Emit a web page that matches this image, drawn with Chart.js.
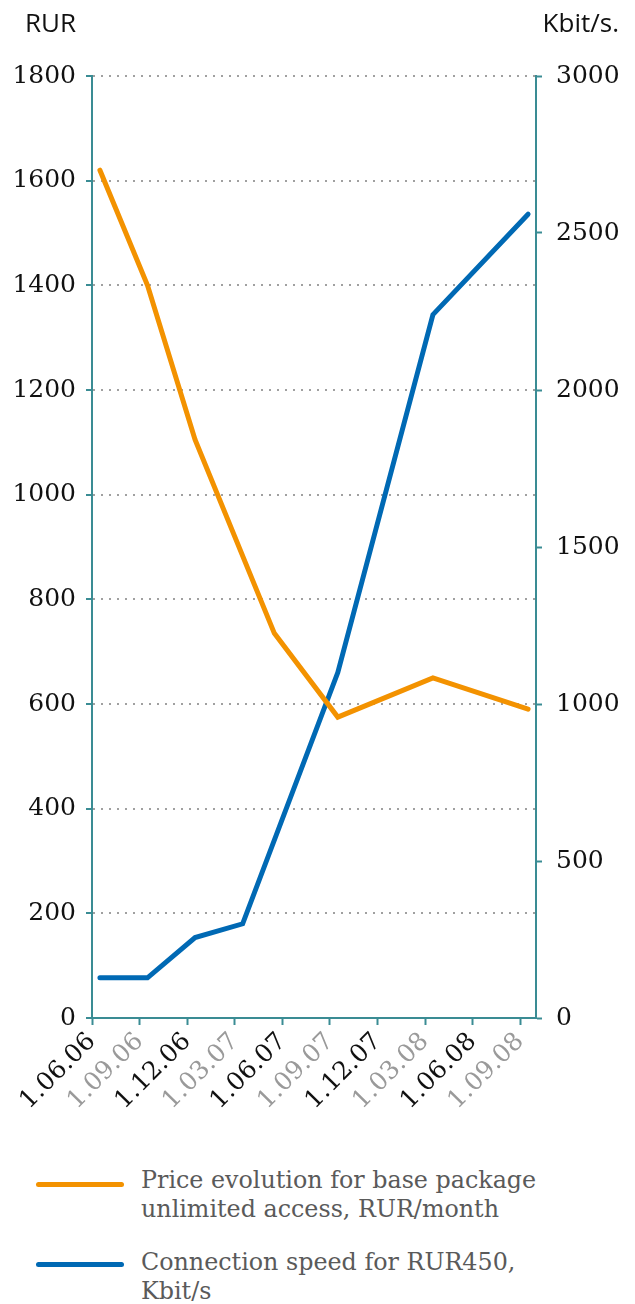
<!DOCTYPE html>
<html>
<head>
<meta charset="utf-8">
<script src="https://cdn.jsdelivr.net/npm/chart.js@4/dist/chart.umd.min.js"></script>
<style>
  html, body { margin: 0; padding: 0; background: #fff; }
  #wrap { position: relative; width: 635px; height: 1304px; overflow: hidden; }
  #chart { position: absolute; left: 0; top: 0; }
  .unit { position: absolute; top: 4px; font-family: "Open Sans", sans-serif; font-size: 26px; color: #111; }
  #unitLeft { left: 25px; }
  #unitRight { right: 16px; }
  .legend-swatch { position: absolute; left: 36px; width: 88px; height: 5px; border-radius: 3px; }
  .legend-text { position: absolute; left: 141px; font-family: "DejaVu Serif", serif; font-size: 23.8px; line-height: 29px; color: #5a5a5a; white-space: nowrap; }
</style>
</head>
<body>
<div id="wrap">
  <canvas id="chart" width="635" height="1130"></canvas>
  <div class="unit" id="unitLeft">RUR</div>
  <div class="unit" id="unitRight">Kbit/s.</div>
  <div id="legend"></div>
</div>
<script>
// Quarter ticks on the time axis, counted in months from 1 June 2006
const tickMonths = [0, 3, 6, 9, 12, 15, 18, 21, 24, 27];
const tickLabels = ['1.06.06', '1.09.06', '1.12.06', '1.03.07', '1.06.07', '1.09.07', '1.12.07', '1.03.08', '1.06.08', '1.09.08'];

// Price of the base unlimited package, RUR/month
const priceMonths = [0.5, 3.5, 6.5, 11.5, 15.5, 21.5, 27.5];
const priceValues = [1620, 1400, 1105, 735, 575, 650, 590];

// Connection speed available for RUR450, Kbit/s
const speedMonths = [0.5, 3.5, 6.5, 9.5, 15.5, 21.5, 27.5];
const speedValues = [128, 128, 256, 300, 1100, 2240, 2560];

const priceLabel = ['Price evolution for base package', 'unlimited access, RUR/month'];
const speedLabel = ['Connection speed for RUR450,', 'Kbit/s'];

const ORANGE = '#f39200';
const BLUE = '#0069b4';
const TEAL = '#3a8c94';
const GRID = '#a0a0a0';
const tickFont = { family: '"DejaVu Serif", serif', size: 25 };

const toPoints = (xs, ys) => xs.map((x, i) => ({ x: x, y: ys[i] }));
const plainNumber = (v) => String(v);

new Chart(document.getElementById('chart'), {
  type: 'line',
  data: {
    datasets: [
      {
        label: priceLabel.join(' '),
        data: toPoints(priceMonths, priceValues),
        yAxisID: 'y',
        borderColor: ORANGE,
        borderWidth: 5,
        borderCapStyle: 'round',
        pointRadius: 0,
        tension: 0
      },
      {
        label: speedLabel.join(' '),
        data: toPoints(speedMonths, speedValues),
        yAxisID: 'y1',
        borderColor: BLUE,
        borderWidth: 5,
        borderCapStyle: 'round',
        pointRadius: 0,
        tension: 0
      }
    ]
  },
  options: {
    responsive: false,
    devicePixelRatio: 1,
    animation: false,
    layout: { padding: { top: 76, left: 0, right: 0, bottom: 0 } },
    plugins: { legend: { display: false }, tooltip: { enabled: false } },
    scales: {
      x: {
        type: 'linear',
        min: 0,
        max: 28,
        afterBuildTicks: (scale) => { scale.ticks = tickMonths.map(v => ({ value: v })); },
        afterFit: (scale) => { scale.height = 112; },
        border: { color: TEAL, width: 2 },
        grid: { drawOnChartArea: false, drawTicks: true, tickLength: 7, tickColor: TEAL, tickWidth: 2 },
        ticks: {
          minRotation: 45,
          maxRotation: 45,
          autoSkip: false,
          padding: 2,
          font: tickFont,
          color: (ctx) => (ctx.index % 2 ? '#9a9a9a' : '#111'),
          callback: (value, index) => tickLabels[index]
        }
      },
      y: {
        position: 'left',
        min: 0,
        max: 1800,
        afterFit: (scale) => { scale.width = 92; },
        border: { color: TEAL, width: 2, dash: [2, 6] },
        grid: {
          drawOnChartArea: true,
          drawTicks: true,
          tickLength: 6,
          tickColor: TEAL,
          tickWidth: 2,
          tickBorderDash: [],
          lineWidth: 2,
          color: (ctx) => (ctx.tick && ctx.tick.value === 0 ? 'rgba(0,0,0,0)' : GRID)
        },
        ticks: { stepSize: 200, padding: 10, font: tickFont, color: '#111', callback: plainNumber }
      },
      y1: {
        position: 'right',
        min: 0,
        max: 3000,
        afterFit: (scale) => { scale.width = 99; },
        border: { color: TEAL, width: 2 },
        grid: { drawOnChartArea: false, drawTicks: true, tickLength: 6, tickColor: TEAL, tickWidth: 2 },
        ticks: { stepSize: 500, padding: 14, font: tickFont, color: '#111', callback: plainNumber }
      }
    }
  }
});

// Legend below the chart, built from the series labels
const legendEntries = [
  { lines: priceLabel, color: ORANGE, swatchTop: 1182, textTop: 1166 },
  { lines: speedLabel, color: BLUE, swatchTop: 1262, textTop: 1248 }
];
const legend = document.getElementById('legend');
legendEntries.forEach((e) => {
  const sw = document.createElement('div');
  sw.className = 'legend-swatch';
  sw.style.top = e.swatchTop + 'px';
  sw.style.background = e.color;
  legend.appendChild(sw);
  const tx = document.createElement('div');
  tx.className = 'legend-text';
  tx.style.top = e.textTop + 'px';
  tx.innerHTML = e.lines.join('<br>');
  legend.appendChild(tx);
});
</script>
</body>
</html>
